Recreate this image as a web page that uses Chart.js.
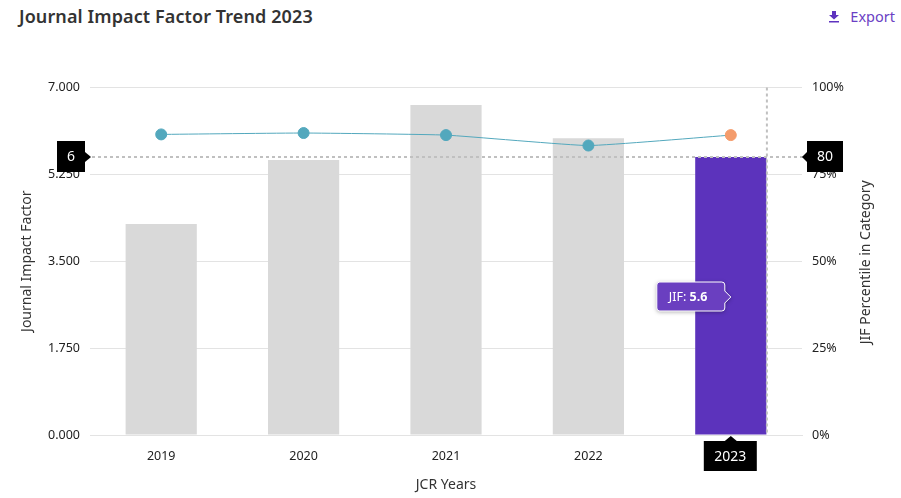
<!DOCTYPE html>
<html>
<head>
<meta charset="utf-8">
<title>Journal Impact Factor Trend 2023</title>
<script src="https://cdn.jsdelivr.net/npm/chart.js@4"></script>
<style>
  html, body { margin: 0; padding: 0; background: #fff; }
  body { width: 901px; height: 498px; position: relative; overflow: hidden; font-family: "Noto Sans", sans-serif; }
  #title { position: absolute; left: 19px; top: 4px; font-size: 18px; font-weight: 600; color: #333; letter-spacing: 0.1px; }
  #exportBtn { position: absolute; right: 6px; top: 6px; font-size: 14.5px; color: #6b3fc4; }
  #exportBtn svg { vertical-align: -1px; margin-right: 10px; }
  canvas { position: absolute; left: 0; top: 0; }
</style>
</head>
<body>
<div id="title">Journal Impact Factor Trend 2023</div>
<div id="exportBtn"><svg width="12" height="12" viewBox="0 0 12 12"><path d="M4 0h4v4h3L6 8.500 1 4h3zM1 10h10v1.500H1z" fill="#5e33bf"/></svg>Export</div>
<canvas id="jifChart" width="901" height="498"></canvas>
<script>
var years = ["2019", "2020", "2021", "2022", "2023"];
var jifValues = [4.25, 5.54, 6.65, 5.98, 5.6];
var percentileValues = [86.5, 86.9, 86.3, 83.3, 86.3];
var barColors = ["#d9d9d9", "#d9d9d9", "#d9d9d9", "#d9d9d9", "#5c33bc"];
var pointColors = ["#53a8bd", "#53a8bd", "#53a8bd", "#53a8bd", "#f49c6c"];
var jifTag = "6";
var percentileTag = "80";
var fontName = "'Noto Sans', sans-serif";

function blackTag(ctx, x, y, w, h, text) {
    ctx.fillStyle = "#000";
    ctx.fillRect(x, y, w, h);
    ctx.fillStyle = "#fff";
    ctx.font = "14px " + fontName;
    ctx.textAlign = "center";
    ctx.textBaseline = "middle";
    ctx.fillText(text, x + w / 2, y + h / 2 + 1);
}

function calloutPath(ctx, left, right, midY) {
    var top = midY - 15;
    var bottom = midY + 14;
    ctx.beginPath();
    ctx.moveTo(left + 3, top);
    ctx.lineTo(right - 3, top);
    ctx.quadraticCurveTo(right, top, right, top + 3);
    ctx.lineTo(right, midY - 6);
    ctx.lineTo(right + 6, midY);
    ctx.lineTo(right, midY + 6);
    ctx.lineTo(right, bottom - 3);
    ctx.quadraticCurveTo(right, bottom, right - 3, bottom);
    ctx.lineTo(left + 3, bottom);
    ctx.quadraticCurveTo(left, bottom, left, bottom - 3);
    ctx.lineTo(left, top + 3);
    ctx.quadraticCurveTo(left, top, left + 3, top);
    ctx.closePath();
}

var currentYearMarks = {
    id: "currentYearMarks",
    afterDraw: function (chart) {
        var ctx = chart.ctx;
        var area = chart.chartArea;
        var last = years.length - 1;
        var bar = chart.getDatasetMeta(1).data[last];
        var yLine = chart.scales.y.getPixelForValue(jifValues[last]);
        var xRight = bar.x + bar.width / 2;

        ctx.save();

        // right axis title reads bottom to top here
        ctx.save();
        ctx.translate(866, (area.top + area.bottom) / 2 + 1);
        ctx.rotate(-Math.PI / 2);
        ctx.font = "14px " + fontName;
        ctx.fillStyle = "#333";
        ctx.textAlign = "center";
        ctx.textBaseline = "middle";
        ctx.fillText("JIF Percentile in Category", 0, 0);
        ctx.restore();

        // dotted cross lines
        ctx.strokeStyle = "#c0c0c0";
        ctx.lineWidth = 2;
        ctx.setLineDash([3, 3]);
        ctx.beginPath();
        ctx.moveTo(area.left - 4, yLine);
        ctx.lineTo(area.right + 4, yLine);
        ctx.moveTo(xRight + 0.5, area.top);
        ctx.lineTo(xRight + 0.5, area.bottom);
        ctx.stroke();
        ctx.setLineDash([]);

        // left tag
        blackTag(ctx, 57, yLine - 16, 28, 31, jifTag);
        ctx.fillStyle = "#000";
        ctx.beginPath();
        ctx.moveTo(85, yLine - 5);
        ctx.lineTo(91, yLine);
        ctx.lineTo(85, yLine + 5);
        ctx.fill();

        // right tag
        blackTag(ctx, 807, yLine - 16, 36, 31, percentileTag);
        ctx.fillStyle = "#000";
        ctx.beginPath();
        ctx.moveTo(807, yLine - 5);
        ctx.lineTo(802, yLine);
        ctx.lineTo(807, yLine + 5);
        ctx.fill();

        // year tag under the bar
        blackTag(ctx, bar.x - 27, area.bottom + 6, 53, 30, years[last]);
        ctx.fillStyle = "#000";
        ctx.beginPath();
        ctx.moveTo(bar.x - 6, area.bottom + 6);
        ctx.lineTo(bar.x, area.bottom + 1);
        ctx.lineTo(bar.x + 6, area.bottom + 6);
        ctx.fill();

        // JIF callout
        var midY = (yLine + area.bottom) / 2 + 1;
        var boxR = bar.x - 6;
        var boxL = boxR - 68;
        ctx.shadowColor = "rgba(0,0,0,0.35)";
        ctx.shadowBlur = 4;
        ctx.shadowOffsetY = 1;
        ctx.fillStyle = "#6a3fc0";
        calloutPath(ctx, boxL, boxR, midY);
        ctx.fill();
        ctx.shadowColor = "transparent";
        ctx.strokeStyle = "#fff";
        ctx.lineWidth = 1;
        ctx.stroke();
        ctx.fillStyle = "#fff";
        ctx.textAlign = "left";
        ctx.textBaseline = "middle";
        ctx.font = "12.5px " + fontName;
        ctx.fillText("JIF: ", boxL + 12, midY);
        var labelW = ctx.measureText("JIF: ").width;
        ctx.font = "bold 12.5px " + fontName;
        ctx.fillText(jifValues[last].toFixed(1), boxL + 12 + labelW, midY);

        ctx.restore();
    }
};

new Chart(document.getElementById("jifChart"), {
    type: "bar",
    data: {
        labels: years,
        datasets: [
            {
                type: "line",
                label: "JIF Percentile",
                data: percentileValues,
                yAxisID: "y1",
                borderColor: "#53a8bd",
                borderWidth: 1,
                tension: 0.12,
                pointRadius: 5.5,
                pointBackgroundColor: pointColors,
                pointBorderColor: pointColors,
                order: 0
            },
            {
                label: "JIF",
                data: jifValues,
                yAxisID: "y",
                backgroundColor: barColors,
                barPercentage: 0.5,
                categoryPercentage: 1,
                order: 1
            }
        ]
    },
    options: {
        responsive: false,
        animation: false,
        layout: { padding: { top: 87.5, bottom: 0, left: 15 } },
        plugins: {
            legend: { display: false },
            tooltip: { enabled: false }
        },
        scales: {
            x: {
                grid: { display: false },
                border: { color: "#e3e3e3" },
                ticks: {
                    padding: 6,
                    font: { size: 12.5, family: fontName },
                    color: "#222",
                    maxRotation: 0
                },
                title: {
                    display: true,
                    text: "JCR Years",
                    font: { size: 14, family: fontName },
                    color: "#333",
                    padding: { top: 11, bottom: 5 }
                },
                afterFit: function (scale) { scale.height = 63; }
            },
            y: {
                position: "left",
                min: 0,
                max: 7,
                grid: { color: "#e3e3e3", drawTicks: false },
                border: { display: false },
                ticks: {
                    stepSize: 1.75,
                    padding: 10,
                    font: { size: 12.5, family: fontName },
                    color: "#222",
                    callback: function (v) { return v.toFixed(3); }
                },
                title: {
                    display: true,
                    text: "Journal Impact Factor",
                    font: { size: 14, family: fontName },
                    color: "#333"
                },
                afterFit: function (scale) { scale.width = 75; }
            },
            y1: {
                position: "right",
                min: 0,
                max: 100,
                grid: { display: false, drawTicks: false },
                border: { display: false },
                ticks: {
                    stepSize: 25,
                    padding: 10,
                    font: { size: 12.5, family: fontName },
                    color: "#222",
                    callback: function (v) { return v + "%"; }
                },
                afterFit: function (scale) { scale.width = 99; }
            }
        }
    },
    plugins: [currentYearMarks]
});
</script>
</body>
</html>
